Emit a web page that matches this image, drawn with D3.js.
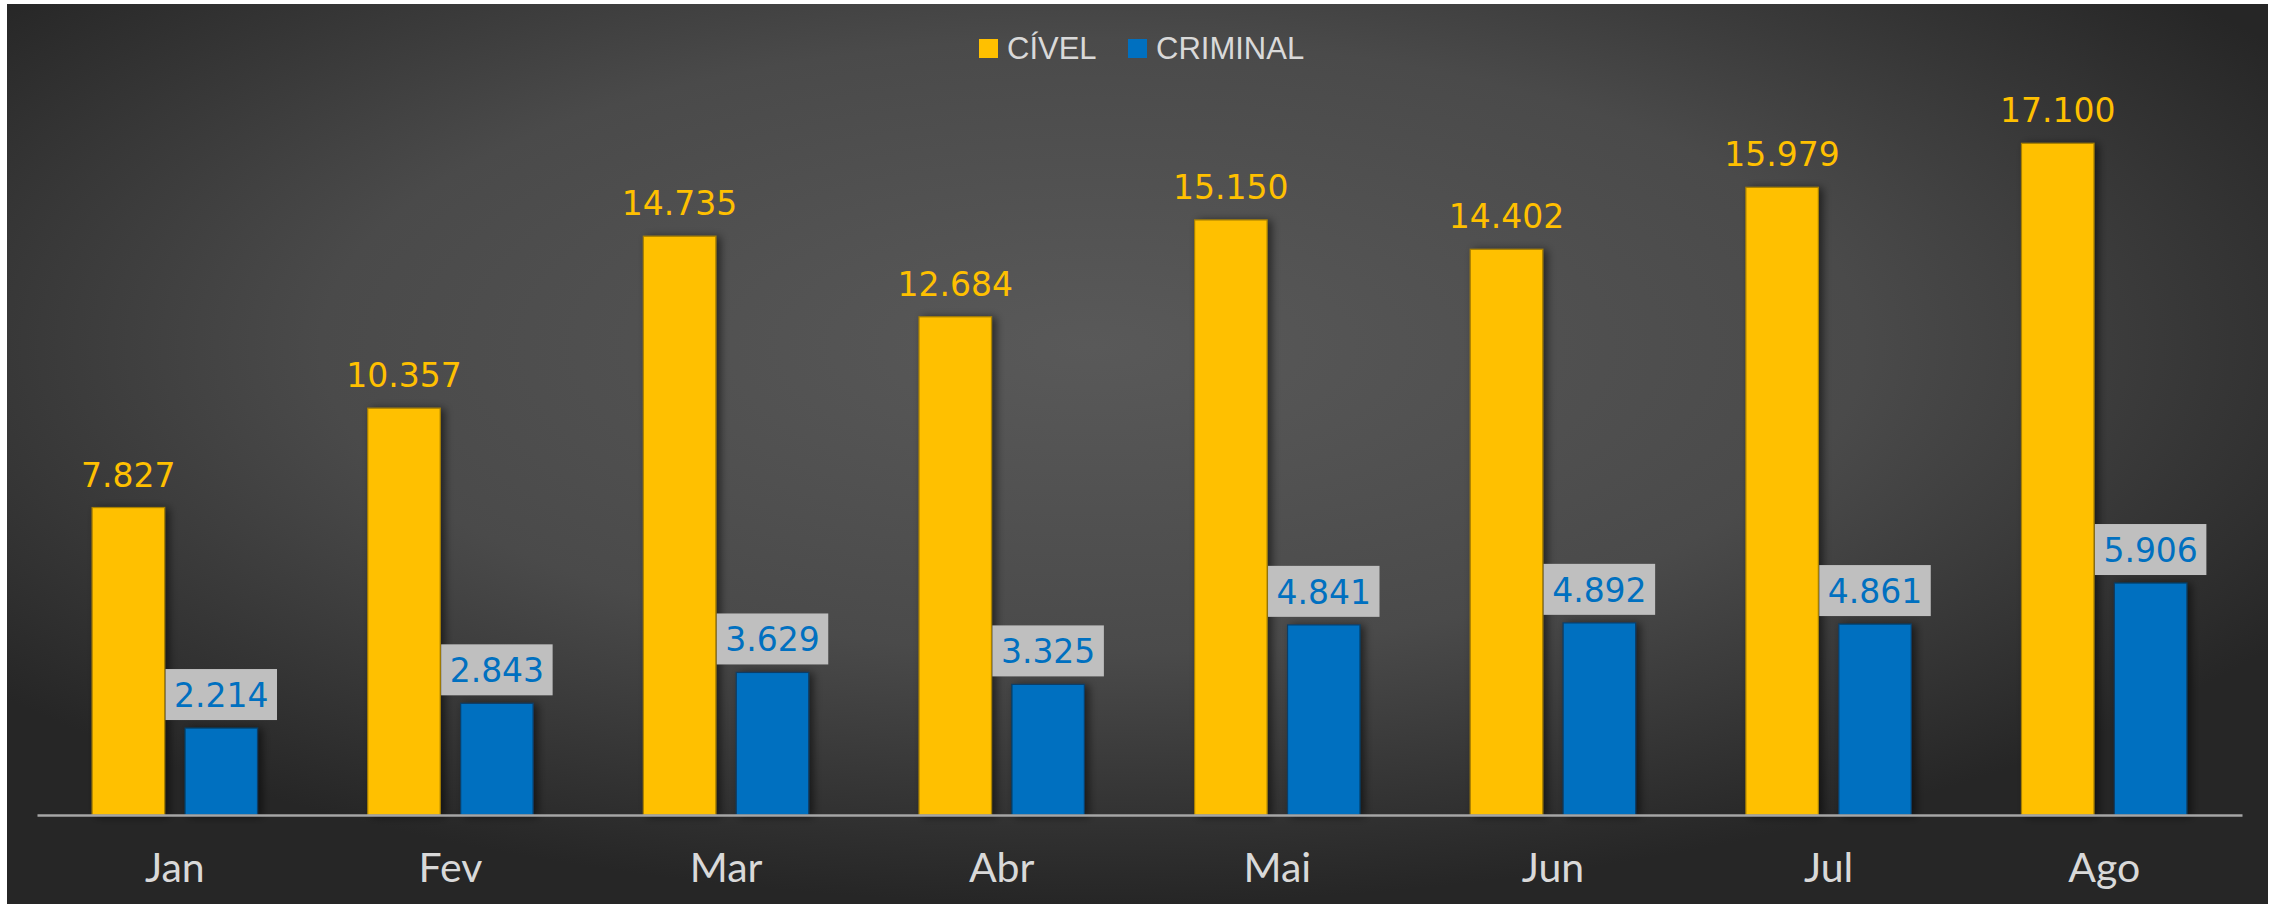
<!DOCTYPE html>
<html>
<head>
<meta charset="utf-8">
<script src="https://cdn.jsdelivr.net/npm/d3@7"></script>
<style>
  html, body { margin: 0; padding: 0; background: #fff; }
  svg { display: block; }
</style>
</head>
<body>
<script>
const MONTHS = ['Jan', 'Fev', 'Mar', 'Abr', 'Mai', 'Jun', 'Jul', 'Ago']
const SERIES = ['CÍVEL', 'CRIMINAL']
const CIVEL = [7827, 10357, 14735, 12684, 15150, 14402, 15979, 17100]
const CRIMINAL = [2214, 2843, 3629, 3325, 4841, 4892, 4861, 5906]
const COLORS = {'CÍVEL': '#ffc000', 'CRIMINAL': '#0070c0'}
const EDGES = {'CÍVEL': '#a88000', 'CRIMINAL': '#0a3d66'}

const width = 2272, height = 904
const margin = {left: 37, right: 30, top: 108, bottom: 89}

// pt-BR thousands separator
const fmt = v => d3.format(',')(v).replace(/,/g, '.')

const data = MONTHS.map((m, i) => ({month: m, 'CÍVEL': CIVEL[i], 'CRIMINAL': CRIMINAL[i]}))

const svg = d3.select('body').append('svg')
    .attr('width', width)
    .attr('height', height)

const defs = svg.append('defs')
const grad = defs.append('radialGradient')
    .attr('id', 'bg')
    .attr('cx', '0.48').attr('cy', '0.38').attr('r', '0.62')
grad.append('stop').attr('offset', '0').attr('stop-color', '#595959')
grad.append('stop').attr('offset', '0.55').attr('stop-color', '#4a4a4a')
grad.append('stop').attr('offset', '1').attr('stop-color', '#262626')

const shadow = defs.append('filter')
    .attr('id', 'shadow')
    .attr('x', '-20%').attr('y', '-10%').attr('width', '150%').attr('height', '120%')
shadow.append('feDropShadow')
    .attr('dx', 4).attr('dy', 1).attr('stdDeviation', 4)
    .attr('flood-color', '#000').attr('flood-opacity', 0.55)

svg.append('rect')
    .attr('x', 7).attr('y', 4)
    .attr('width', width - 11).attr('height', height - 4)
    .attr('fill', 'url(#bg)')

const x0 = d3.scaleBand()
    .domain(MONTHS)
    .range([margin.left, width - margin.right])

const bw = x0.bandwidth()
const x1 = d3.scaleBand()
    .domain(SERIES)
    .range([bw * 0.2, bw * 0.8])
    .paddingInner(0.22)

const y = d3.scaleLinear()
    .domain([0, 18000])
    .range([height - margin.bottom, margin.top])

// legend
const legend = svg.append('g').attr('class', 'legend')
  .selectAll('g')
  .data(SERIES)
  .join('g')
    .attr('transform', (d, i) => `translate(${[979, 1128][i]},39)`)
legend.append('rect')
    .attr('width', 19).attr('height', 19)
    .attr('fill', d => COLORS[d])
legend.append('text')
    .attr('x', 28).attr('y', 20)
    .attr('fill', '#d9d9d9')
    .attr('font-family', '"Liberation Sans", Arial, sans-serif')
    .attr('font-size', 31)
    .text(d => d)

// bars
const groups = svg.append('g').attr('class', 'bars')
  .selectAll('g')
  .data(data)
  .join('g')
    .attr('transform', d => `translate(${x0(d.month)},0)`)

groups.selectAll('rect')
  .data(d => SERIES.map(s => ({key: s, value: d[s]})))
  .join('rect')
    .attr('x', d => x1(d.key))
    .attr('y', d => y(d.value))
    .attr('width', x1.bandwidth())
    .attr('height', d => y(0) - y(d.value))
    .attr('fill', d => COLORS[d.key])
    .attr('stroke', d => EDGES[d.key])
    .attr('stroke-width', 1.2)
    .attr('filter', 'url(#shadow)')

// axis
const xAxis = g => g
    .attr('transform', `translate(0,${y(0)})`)
    .call(d3.axisBottom(x0).tickSize(0).tickPadding(38))
    .call(g => g.select('.domain')
      .attr('stroke', '#a6a6a6')
      .attr('stroke-width', 2.5))
    .call(g => g.selectAll('text')
      .attr('fill', '#d9d9d9')
      .attr('font-family', 'Lato, sans-serif')
      .attr('font-size', 41))

svg.append('g').attr('class', 'axis').call(xAxis)

// data labels
const labels = groups.selectAll('g.label')
  .data(d => SERIES.map(s => ({key: s, value: d[s]})))
  .join('g')
    .attr('class', 'label')

labels.filter(d => d.key === 'CRIMINAL')
  .append('rect')
    .attr('class', 'lblbox')
    .attr('fill', '#bfbfbf')

labels.append('text')
    .attr('x', d => x1(d.key) + x1.bandwidth() / 2)
    .attr('y', d => y(d.value) - 21)
    .attr('text-anchor', 'middle')
    .attr('fill', d => COLORS[d.key])
    .attr('font-family', '"DejaVu Sans", Verdana, sans-serif')
    .attr('font-size', 33)
    .text(d => fmt(d.value))

labels.filter(d => d.key === 'CRIMINAL').each(function(d) {
  const g = d3.select(this)
  const w = g.select('text').node().getComputedTextLength() + 17
  g.select('rect')
    .attr('x', x1(d.key) + x1.bandwidth() / 2 - w / 2)
    .attr('y', y(d.value) - 8 - 51)
    .attr('width', w)
    .attr('height', 51)
})
</script>
</body>
</html>
